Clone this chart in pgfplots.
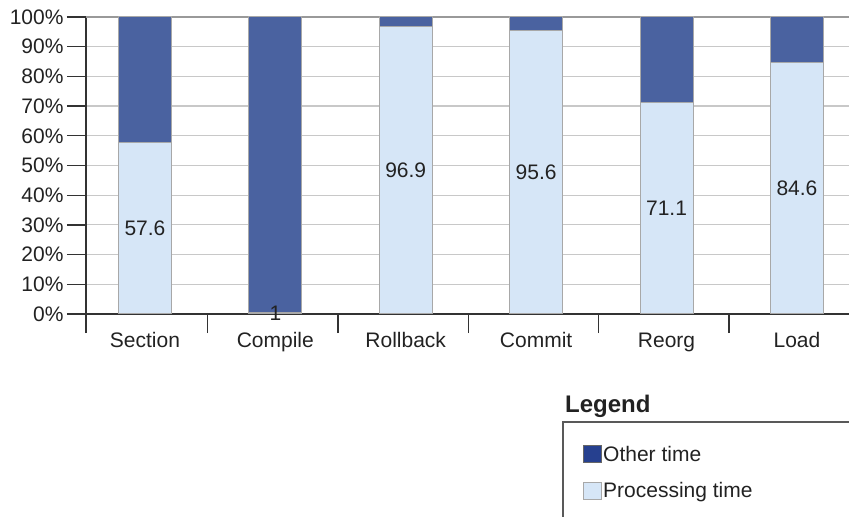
\documentclass[border=0pt]{standalone}
\usepackage{pgfplots}
\pgfplotsset{compat=1.18}
\usepackage{fontspec}
\setmainfont{Liberation Sans}
\definecolor{otherblue}{HTML}{4A62A0}
\definecolor{legendnavy}{HTML}{26408F}
\definecolor{procblue}{HTML}{D6E6F7}
\definecolor{barline}{HTML}{A8A8A8}
\definecolor{gridgray}{HTML}{C8C8C8}
\definecolor{textgray}{HTML}{222222}

\begin{document}
\begin{tikzpicture}[font=\fontsize{21bp}{25bp}\selectfont]
\useasboundingbox (0,0) rectangle (849bp,517bp);
\begin{axis}[
  at={(86bp,203bp)}, anchor=south west,
  x=130.4bp, y=2.97bp,
  xmin=-0.452, xmax=5.6, ymin=0, ymax=100,
  ybar stacked, bar width=53bp,
  axis x line*=bottom, axis y line*=left,
  axis line style={draw=black!80, line width=1.3bp},
  tick align=outside,
  major tick length=19bp,
  tick style={draw=black!80, line width=1.3bp},
  ytick={0,10,...,100},
  yticklabel={\pgfmathprintnumber{\tick}\%},
  /pgf/number format/assume math mode=true,
  ymajorgrids,
  grid style={draw=gridgray, line width=1.2bp},
  extra y ticks={100}, extra y tick labels={},
  extra y tick style={major grid style={draw=black!40, line width=1.6bp}},
  xtick={-0.452,0.48,1.48,2.48,3.48,4.48},
  xticklabels={,,,,,},
  extra x ticks={0,1,2,3,4,5},
  extra x tick labels={Section,Compile,Rollback,Commit,Reorg,Load},
  extra x tick style={major tick length=0pt,
    xticklabel style={yshift=-15bp, text height=15bp, text depth=4bp}},
  ticklabel style={text=textgray},
  reverse legend,
  legend image code/.code={\draw[#1,line width=0.8bp] (0bp,-8.5bp) rectangle (18bp,8.5bp);},
  legend style={at={(axis description cs:0.630,-0.44)}, anchor=north west,
    draw=none, fill=none, inner sep=0pt, row sep=18bp,
    nodes={inner sep=1bp, text=textgray}, legend cell align=left},
]
% processing time: labels sit in the middle of each light segment
\addplot[fill=procblue, draw=barline, line width=1bp,
  point meta=explicit symbolic,
  nodes near coords={\pgfplotspointmeta},
  every node near coord/.append style={text=textgray}]
  coordinates {(0,57.6)[57.6] (1,0.5)[1] (2,96.9)[96.9] (3,95.6)[95.6] (4,71.1)[71.1] (5,84.6)[84.6]};
\addlegendentry{Processing time}
\addplot[fill=otherblue, draw=barline, line width=1bp,
  legend image post style={fill=legendnavy, draw=black!60}]
  coordinates {(0,42.4) (1,99.5) (2,3.1) (3,4.4) (4,28.9) (5,15.4)};
\addlegendentry{Other time}
\end{axis}
\node[anchor=base west, inner sep=0pt, text=textgray,
  font=\bfseries\fontsize{24bp}{28bp}\selectfont] at (565bp,104bp) {Legend};
\draw[black!65, line width=1.3bp] (563bp,-5bp) rectangle (900bp,95bp);
\end{tikzpicture}
\end{document}
